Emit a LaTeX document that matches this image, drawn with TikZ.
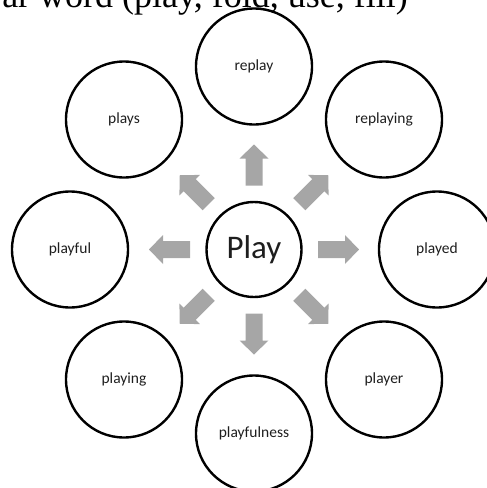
\documentclass[tikz,border=0pt]{standalone}
\usepackage{fontspec}
\usetikzlibrary{calc}
\setmainfont{Carlito}
\newfontfamily\titleserif{Liberation Serif}
\definecolor{arrowgray}{RGB}{166,166,166}
\definecolor{labelink}{RGB}{30,30,30}
\begin{document}
\begin{tikzpicture}[x=1pt,y=-1pt,
  word/.style={circle,draw=black,line width=2.4pt,minimum size=116pt,inner sep=0pt,
    text=labelink,font=\fontsize{15.5}{18}\selectfont},
  hub/.style={circle,draw=black,line width=2.4pt,minimum size=95pt,inner sep=0pt,
    text=labelink,font=\fontsize{33}{38}\selectfont},
  blockarrow/.style={fill=arrowgray,draw=none}]
\useasboundingbox (0,0) rectangle (487,488);
\begin{scope}
\clip (0,0) rectangle (487,488);
\node[anchor=base east,inner sep=0pt,font=\titleserif\fontsize{36}{40}\selectfont] (title) at (408,7) {ar word (play, fold, use, fill)};
\node[hub] (play) at (254,249.5) {Play};
\node[word] (replay)      at ($(play)+(0,-183)$) {replay};
\node[word] (replaying)   at ($(play)+(130,-130)$) {replaying};
\node[word] (played)      at ($(play)+(183,0)$) {played};
\node[word] (player)      at ($(play)+(130,130)$) {player};
\node[word] (playfulness) at ($(play)+(0,184)$) {playfulness};
\node[word] (playing)     at ($(play)+(-130,130)$) {playing};
\node[word] (playful)     at ($(play)+(-184,0)$) {playful};
\node[word] (plays)       at ($(play)+(-130,-130)$) {plays};
\foreach \a in {0,45,...,315}{
  \fill[blockarrow,shift={(254,249.5)},rotate=\a]
    (64,-8.5) -- (91,-8.5) -- (91,-14.5) -- (105,0) -- (91,14.5) -- (91,8.5) -- (64,8.5) -- cycle;
}
\end{scope}
\end{tikzpicture}
\end{document}
